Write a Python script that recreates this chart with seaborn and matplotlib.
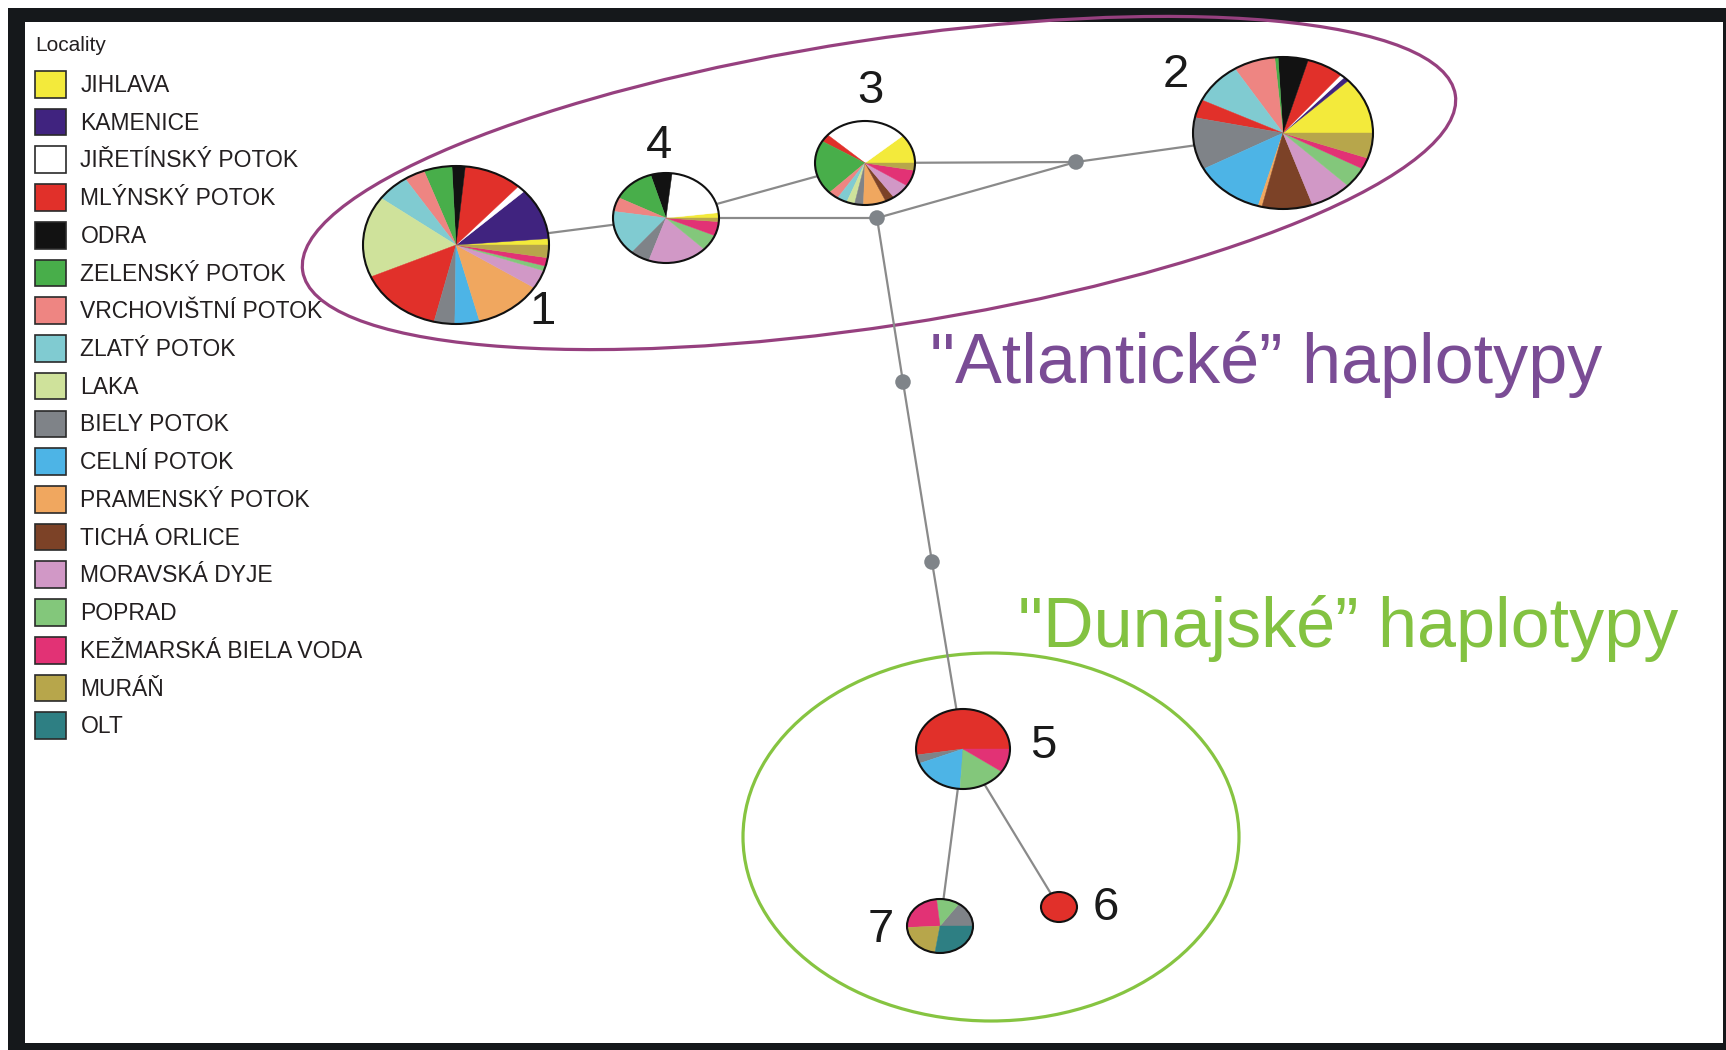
import numpy as np
import pandas as pd
import matplotlib
matplotlib.use("Agg")
import matplotlib.pyplot as plt
from matplotlib.patches import Ellipse, Polygon, Patch, Rectangle
import seaborn as sns

# ---------------- data ----------------
localities = ["JIHLAVA", "KAMENICE", "JIŘETÍNSKÝ POTOK", "MLÝNSKÝ POTOK", "ODRA",
              "ZELENSKÝ POTOK", "VRCHOVIŠTNÍ POTOK", "ZLATÝ POTOK", "LAKA",
              "BIELY POTOK", "CELNÍ POTOK", "PRAMENSKÝ POTOK", "TICHÁ ORLICE",
              "MORAVSKÁ DYJE", "POPRAD", "KEŽMARSKÁ BIELA VODA", "MURÁŇ", "OLT"]
locality_colors = ["#f3ea3b", "#40237f", "#ffffff", "#e1302a", "#121212",
                   "#48ae4a", "#ee8582", "#80cbd1", "#cfe29b",
                   "#7f8388", "#4db4e6", "#f0a75f", "#7c4227",
                   "#d198c6", "#83c77b", "#e23275", "#b7a64b", "#2e7f83"]

# haplotype composition (share of samples, %), slices listed counter-clockwise from 3 o'clock
hap1_loc = ["JIHLAVA", "KAMENICE", "JIŘETÍNSKÝ POTOK", "MLÝNSKÝ POTOK", "ODRA",
            "ZELENSKÝ POTOK", "VRCHOVIŠTNÍ POTOK", "ZLATÝ POTOK", "LAKA", "MLÝNSKÝ POTOK",
            "BIELY POTOK", "CELNÍ POTOK", "PRAMENSKÝ POTOK", "MORAVSKÁ DYJE", "POPRAD",
            "KEŽMARSKÁ BIELA VODA", "MURÁŇ"]
hap1_share = [1.3, 10.6, 1.4, 10.1, 2.3, 4.9, 3.6, 5.7, 16.7, 14.6, 3.6, 4.3, 11.8, 3.8, 1.0, 1.7, 2.6]

hap2_loc = ["JIHLAVA", "KAMENICE", "JIŘETÍNSKÝ POTOK", "MLÝNSKÝ POTOK", "ODRA",
            "ZELENSKÝ POTOK", "VRCHOVIŠTNÍ POTOK", "ZLATÝ POTOK", "MLÝNSKÝ POTOK", "BIELY POTOK",
            "CELNÍ POTOK", "PRAMENSKÝ POTOK", "TICHÁ ORLICE", "MORAVSKÁ DYJE", "POPRAD",
            "KEŽMARSKÁ BIELA VODA", "MURÁŇ"]
hap2_share = [12.1, 1.0, 0.8, 6.6, 5.4, 0.6, 7.5, 8.9, 3.9, 11.1, 12.7, 0.7, 9.1, 7.5, 4.4, 2.4, 5.4]

hap3_loc = ["JIHLAVA", "JIŘETÍNSKÝ POTOK", "MLÝNSKÝ POTOK", "ZELENSKÝ POTOK", "VRCHOVIŠTNÍ POTOK",
            "ZLATÝ POTOK", "LAKA", "BIELY POTOK", "PRAMENSKÝ POTOK", "TICHÁ ORLICE",
            "MORAVSKÁ DYJE", "KEŽMARSKÁ BIELA VODA", "MURÁŇ"]
hap3_share = [11.3, 27.1, 3.0, 21.1, 3.3, 3.3, 2.6, 2.9, 7.3, 3.0, 6.1, 6.3, 2.8]

hap4_loc = ["JIHLAVA", "JIŘETÍNSKÝ POTOK", "ODRA", "ZELENSKÝ POTOK", "VRCHOVIŠTNÍ POTOK",
            "ZLATÝ POTOK", "BIELY POTOK", "MORAVSKÁ DYJE", "POPRAD",
            "KEŽMARSKÁ BIELA VODA", "MURÁŇ"]
hap4_share = [1.9, 21.3, 6.5, 12.9, 5.1, 16.2, 5.9, 18.1, 5.8, 5.1, 1.3]

hap5_loc = ["MLÝNSKÝ POTOK", "BIELY POTOK", "CELNÍ POTOK", "POPRAD", "KEŽMARSKÁ BIELA VODA"]
hap5_share = [52.4, 3.5, 18.1, 16.4, 9.6]

hap6_loc = ["MLÝNSKÝ POTOK"]
hap6_share = [100.0]

hap7_loc = ["BIELY POTOK", "POPRAD", "KEŽMARSKÁ BIELA VODA", "MURÁŇ", "OLT"]
hap7_share = [15.3, 11.4, 24.2, 21.7, 27.5]

haplotypes = ["1", "2", "3", "4", "5", "6", "7"]
hap_locs = [hap1_loc, hap2_loc, hap3_loc, hap4_loc, hap5_loc, hap6_loc, hap7_loc]
hap_shares = [hap1_share, hap2_share, hap3_share, hap4_share, hap5_share, hap6_share, hap7_share]

median_vectors = ["mA", "mB", "mC", "mD"]
edge_from = ["1", "4", "4", "3", "mB", "mA", "mB", "mC", "mD", "5", "5"]
edge_to   = ["4", "3", "mB", "mA", "mA", "2", "mC", "mD", "5", "7", "6"]

group_labels = ['"Atlantické” haplotypy', '"Dunajské” haplotypy']

# ---------------- layout (pixel space) ----------------
W, H = 1726, 1050
node_xy = {"1": (456, 245), "2": (1283, 133), "3": (865, 163), "4": (666, 218),
           "5": (963, 749), "6": (1059, 907), "7": (940, 926),
           "mA": (1076, 162), "mB": (877, 218), "mC": (903, 382), "mD": (932, 562)}
node_r = {"1": (93, 79), "2": (90, 76), "3": (50, 42), "4": (53, 45),
          "5": (47, 40), "6": (18, 15), "7": (33, 27)}
label_xy = {"1": (542, 312), "2": (1176, 75), "3": (870, 91), "4": (659, 146),
            "5": (1043, 746), "6": (1106, 908), "7": (881, 930)}

color_of = dict(zip(localities, locality_colors))

sns.set_theme(style="white")
plt.rcParams["font.family"] = ["Liberation Sans", "DejaVu Sans"]

fig = plt.figure(figsize=(W / 100, H / 100), dpi=100)
ax = fig.add_axes([0, 0, 1, 1])

# frame
ax.add_patch(Rectangle((8, 8), W - 8, H - 8, facecolor="#15181b", edgecolor="none", zorder=0))
ax.add_patch(Rectangle((25, 22), 1723 - 25, 1043 - 22, facecolor="white", edgecolor="none", zorder=0.5))

# group hulls
ax.add_patch(Ellipse((879, 183), 2 * 583, 2 * 143, angle=-8.7, fill=False,
                     edgecolor="#96407f", linewidth=2.3, zorder=1))
ax.add_patch(Ellipse((991, 837), 2 * 248, 2 * 184, fill=False,
                     edgecolor="#86c441", linewidth=2.3, zorder=1))

# network edges (seaborn)
rows = []
for i, (a, b) in enumerate(zip(edge_from, edge_to)):
    rows.append({"edge": i, "x": node_xy[a][0], "y": node_xy[a][1]})
    rows.append({"edge": i, "x": node_xy[b][0], "y": node_xy[b][1]})
edges_df = pd.DataFrame(rows)
sns.lineplot(data=edges_df, x="x", y="y", units="edge", estimator=None, sort=False,
             color="#8a8a8a", linewidth=1.6, ax=ax, legend=False, zorder=2)

# median vectors (seaborn)
mv_df = pd.DataFrame({"x": [node_xy[m][0] for m in median_vectors],
                      "y": [node_xy[m][1] for m in median_vectors]})
sns.scatterplot(data=mv_df, x="x", y="y", s=125, color="#7f8489", edgecolor="none",
                ax=ax, legend=False, zorder=3)

# haplotype pies (elliptical)
for hap, locs, shares in zip(haplotypes, hap_locs, hap_shares):
    cx, cy = node_xy[hap]
    rx, ry = node_r[hap]
    total = float(sum(shares))
    start = 0.0
    for loc, sh in zip(locs, shares):
        end = start + 2 * np.pi * sh / total
        th = np.linspace(start, end, max(3, int(80 * (end - start))))
        px = np.concatenate([[cx], cx + rx * np.cos(th)])
        py = np.concatenate([[cy], cy - ry * np.sin(th)])
        ax.add_patch(Polygon(np.column_stack([px, py]), closed=True,
                             facecolor=color_of[loc], edgecolor=color_of[loc],
                             linewidth=0.3, zorder=4))
        start = end
    ax.add_patch(Ellipse((cx, cy), 2 * rx, 2 * ry, fill=False, edgecolor="#111111",
                         linewidth=1.5, zorder=5))
    lx, ly = label_xy[hap]
    ax.text(lx, ly, hap, fontsize=34, color="#1a1a1a", ha="center", va="center", zorder=6)

# group labels
ax.text(930, 383, group_labels[0], fontsize=50.5, color="#7a4c95", ha="left", va="baseline", zorder=6)
ax.text(1018, 647, group_labels[1], fontsize=50.5, color="#83c241", ha="left", va="baseline", zorder=6)

# legend
handles = [Patch(facecolor=c, edgecolor="#2a2a2a", linewidth=1.2, label=l)
           for l, c in zip(localities, locality_colors)]
leg = ax.legend(handles=handles, title="Locality", loc="upper left",
                bbox_to_anchor=(35 / W, 1 - 36 / H), frameon=False, fontsize=16.5,
                title_fontsize=15, handlelength=1.36, handleheight=1.41,
                handletextpad=0.62, labelspacing=0.485, borderpad=0, borderaxespad=0,
                alignment="left")
leg._legend_box.sep = 11.5
for t in leg.get_texts():
    t.set_color("#231f20")
leg.get_title().set_color("#231f20")
leg.set_zorder(7)

ax.set_xlim(0, W)
ax.set_ylim(H, 0)
ax.axis("off")

fig.savefig("out.png", dpi=100, facecolor="white")
